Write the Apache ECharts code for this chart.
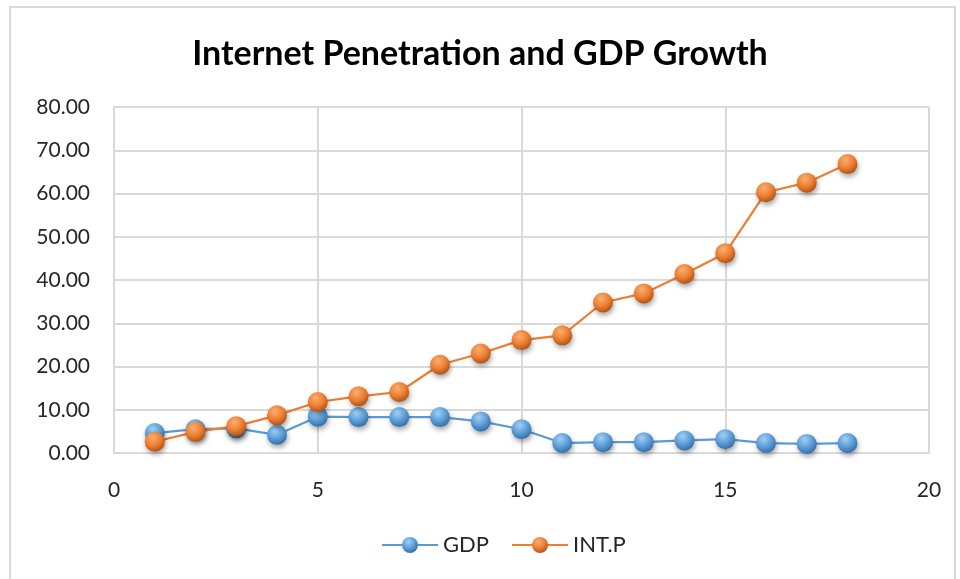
<!DOCTYPE html>
<html><head><meta charset="utf-8">
<script src="https://cdn.jsdelivr.net/npm/echarts@6/dist/echarts.min.js"></script>
<style>html,body{margin:0;padding:0;background:#fff}#c{width:960px;height:579px}</style>
</head><body><div id="c"></div>
<script>
const xValues = [1,2,3,4,5,6,7,8,9,10,11,12,13,14,15,16,17,18];
const gdp = [4.6,5.5,5.7,4.2,8.4,8.3,8.3,8.3,7.3,5.5,2.3,2.5,2.5,2.9,3.2,2.3,2.1,2.3];
const intp = [2.6,4.9,6.2,8.7,11.8,13.1,14.1,20.4,23.0,26.1,27.2,34.8,36.9,41.4,46.2,60.3,62.5,66.8];
const yTicks = ['0.00','10.00','20.00','30.00','40.00','50.00','60.00','70.00','80.00'];

function sphere(base, light, dark){
  return new echarts.graphic.RadialGradient(0.4,0.3,0.75,[
    {offset:0,color:light},{offset:0.55,color:base},{offset:1,color:dark}]);
}
const font = 'Lato, "Open Sans", sans-serif';
const chart = echarts.init(document.getElementById('c'), null, {renderer:'canvas'});
function mk(name, vals, base, light, dark){
  return {
    name, type:'line', data: xValues.map((x,i)=>[x, vals[i]]),
    symbol:'circle', symbolSize:20,
    lineStyle:{color:base, width:2.2},
    itemStyle:{color:sphere(base,light,dark), borderWidth:0,
      shadowColor:'rgba(0,0,0,0.35)', shadowBlur:5, shadowOffsetX:1, shadowOffsetY:3},
    emphasis:{disabled:true}, animation:false
  };
}
chart.setOption({
  animation:false,
  title:{text:'Internet Penetration and GDP Growth', left:'center', top:32,
    textStyle:{fontFamily:font, fontWeight:'bold', fontSize:34, color:'#000'}},
  graphic:[{type:'rect', shape:{x:10,y:7,width:945,height:590},
    style:{fill:'none', stroke:'#d9d9d9', lineWidth:2}, silent:true}],
  legend:{bottom:18, left:376, itemWidth:56, itemHeight:20, itemGap:22,
    textStyle:{fontFamily:font, fontSize:22, color:'#262626'},
    data:['GDP','INT.P']},
  grid:{left:114, right:31, top:107, bottom:126},
  xAxis:{type:'value', min:0, max:20, interval:5,
    axisLine:{show:true, lineStyle:{color:'#d9d9d9', width:2}},
    axisTick:{show:false},
    splitLine:{show:true, lineStyle:{color:'#d9d9d9', width:2}},
    axisLabel:{fontFamily:font, fontSize:21, color:'#262626', margin:27}},
  yAxis:{type:'value', min:0, max:80, interval:10,
    axisLine:{show:true, lineStyle:{color:'#d9d9d9', width:2}},
    axisTick:{show:false},
    splitLine:{show:true, lineStyle:{color:'#d9d9d9', width:2}},
    axisLabel:{fontFamily:font, fontSize:21, color:'#262626', margin:24,
      formatter:(v)=>yTicks[Math.round(v/10)]}},
  series:[
    mk('GDP', gdp, '#5B9BD5', '#9fd0f5', '#2e6aa3'),
    mk('INT.P', intp, '#ED7D31', '#f8b070', '#a94d12')
  ]
});
</script></body></html>
